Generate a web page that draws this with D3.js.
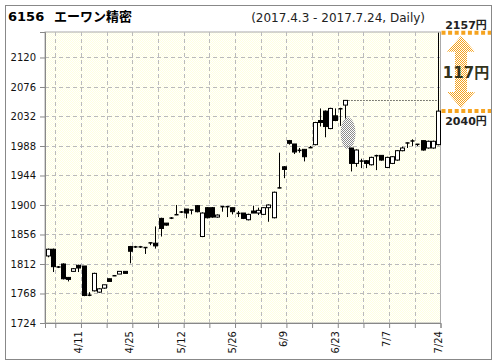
<!DOCTYPE html>
<html>
<head>
<meta charset="utf-8">
<script src="https://cdn.jsdelivr.net/npm/d3@7"></script>
<style>
  body { margin: 0; background: #fff; }
</style>
</head>
<body>
<div id="chart"></div>
<script>
// trading days 2017.4.3 - 2017.7.24
const dates = [
  '4/3','4/4','4/5','4/6','4/7','4/10','4/11','4/12','4/13','4/14','4/17','4/18','4/19','4/20','4/21','4/24','4/25','4/26','4/27','4/28',
  '5/1','5/2','5/8','5/9','5/10','5/11','5/12','5/15','5/16','5/17','5/18','5/19','5/22','5/23','5/24','5/25','5/26','5/29','5/30','5/31',
  '6/1','6/2','6/5','6/6','6/7','6/8','6/9','6/12','6/13','6/14','6/15','6/16','6/19','6/20','6/21','6/22','6/23','6/26','6/27','6/28','6/29','6/30',
  '7/3','7/4','7/5','7/6','7/7','7/10','7/11','7/12','7/13','7/14','7/18','7/19','7/20','7/21','7/24'
];
const open = [
  1824,1834,1808,1812,1792,1801,1810,1809,1766,1772,1770,1776,1790,1795,1797,1801,
  1838,1838,1838,1837,1844,1843,1880,1873,1881,1886,1890,1894,1893,1899,1853,1896,
  1896,1882,1898,1898,1896,1888,1888,1878,1891,1888,1886,1896,1881,1926,1957,1996,
  1991,1982,1983,1986,1990,2026,2040,2014,2033,2044,2049,1985,1962,1966,1966,1960,
  1974,1974,1956,1962,1967,1981,1993,1996,1991,1996,1985,1985,1990
];
const high = [
  1835,1835,1809,1813,1792,1806,1811,1809,1770,1799,1776,1781,1790,1795,1801,1801,
  1839,1839,1839,1837,1844,1868,1881,1873,1882,1900,1891,1894,1893,1900,1889,1897,
  1897,1886,1898,1898,1896,1891,1888,1887,1899,1896,1897,1901,1920,1978,1958,1997,
  1991,1985,1983,1988,2024,2044,2041,2045,2044,2045,2056,1985,1983,1969,1967,1972,
  1975,1974,1972,1973,1982,1987,1993,1998,1991,1996,1996,1996,2157
];
const low = [
  1822,1800,1806,1789,1786,1800,1800,1764,1764,1771,1769,1775,1786,1794,1797,1798,
  1813,1836,1836,1827,1840,1835,1853,1869,1879,1885,1888,1880,1886,1889,1852,1880,
  1881,1881,1890,1882,1886,1882,1879,1877,1888,1885,1885,1875,1880,1925,1940,1990,
  1976,1978,1965,1985,1989,2017,2001,2013,2025,2018,2029,1950,1957,1955,1955,1959,
  1952,1966,1955,1961,1966,1980,1985,1988,1988,1981,1984,1984,1989
];
const close = [
  1834,1808,1807,1790,1789,1805,1806,1765,1765,1798,1775,1781,1786,1794,1801,1798,
  1831,1837,1837,1836,1843,1839,1865,1870,1880,1885,1889,1888,1892,1890,1888,1881,
  1882,1885,1897,1897,1890,1887,1880,1886,1888,1892,1896,1900,1919,1925,1953,1992,
  1979,1981,1972,1985,2023,2023,2017,2044,2026,2043,2056,1962,1982,1965,1962,1971,
  1973,1967,1971,1972,1981,1985,1992,1995,1990,1982,1995,1995,2040
];
const yTicks = [1724, 1768, 1812, 1856, 1900, 1944, 1988, 2032, 2076, 2120];
const labelDates = ['4/11', '4/25', '5/12', '5/26', '6/9', '6/23', '7/7', '7/24'];
const code = '6156';
const name = 'エーワン精密';
const period = '(2017.4.3 - 2017.7.24, Daily)';
const rangeTop = 2157;
const rangeBottom = 2040;
const rangeDiff = 117;
const prevHigh = 2056;
const gapAfter = 58; // window between this day and the next

const W = 496, H = 364;
const plot = { left: 45, right: 440.5, top: 32, bottom: 323 };
const orange = '#f5a31f';

const svg = d3.select('#chart').append('svg')
  .attr('width', W).attr('height', H)
  .style('font-family', '"DejaVu Sans", "Noto Sans CJK JP", sans-serif');

// dither patterns
const defs = svg.append('defs');
const checker = (id, a, b) => {
  const p = defs.append('pattern').attr('id', id)
    .attr('width', 2).attr('height', 2).attr('patternUnits', 'userSpaceOnUse');
  p.append('rect').attr('width', 2).attr('height', 2).attr('fill', b);
  p.append('rect').attr('width', 1).attr('height', 1).attr('fill', a);
  p.append('rect').attr('x', 1).attr('y', 1).attr('width', 1).attr('height', 1).attr('fill', a);
};
checker('bg', '#ffffe0', '#ffffff');
checker('arrowFill', orange, '#ffffff');
checker('gapFill', '#8a8a8a', 'rgba(255,255,255,0)');

// outer frame
svg.append('rect')
  .attr('x', 5.5).attr('y', 5.5).attr('width', 486).attr('height', 354)
  .attr('fill', '#fff').attr('stroke', '#888');

// title
svg.append('text').attr('x', 8).attr('y', 21)
  .attr('font-size', 13).attr('font-weight', 'bold').text(code);
svg.append('text').attr('x', 54).attr('y', 21)
  .attr('font-size', 13).attr('font-weight', 'bold').text(name);
svg.append('text').attr('x', 425).attr('y', 22).attr('text-anchor', 'end')
  .attr('font-size', 12).attr('fill', '#222').text(period);

// scales
const x = d3.scaleLinear().domain([-0.5, dates.length - 0.5]).range([plot.left, plot.right]);
const y = d3.scaleLinear().domain([1724, 2158]).range([plot.bottom, plot.top]);

svg.append('rect')
  .attr('x', plot.left).attr('y', plot.top)
  .attr('width', plot.right - plot.left).attr('height', plot.bottom - plot.top)
  .attr('fill', 'url(#bg)').attr('stroke', '#aaa');

// x ticks every 5 trading days, between candles
const tickIdx = d3.range(1, dates.length, 5);

svg.append('g').selectAll('line')
  .data(tickIdx.filter(i => x(i + 0.5) < plot.right - 1))
  .join('line')
  .attr('x1', i => Math.round(x(i + 0.5)) + 0.5).attr('x2', i => Math.round(x(i + 0.5)) + 0.5)
  .attr('y1', plot.top).attr('y2', plot.bottom)
  .attr('stroke', '#bbb').attr('stroke-dasharray', '4,3');

svg.append('g').selectAll('line')
  .data(yTicks.slice(1))
  .join('line')
  .attr('x1', plot.left).attr('x2', plot.right)
  .attr('y1', d => Math.round(y(d)) + 0.5).attr('y2', d => Math.round(y(d)) + 0.5)
  .attr('stroke', '#bbb').attr('stroke-dasharray', '4,3');

// y axis
const yAxis = svg.append('g')
  .attr('transform', `translate(${plot.left},0)`)
  .call(d3.axisLeft(y).tickValues(yTicks).tickSize(5).tickPadding(4).tickFormat(d3.format('d')));
yAxis.select('.domain').attr('stroke', '#888');
yAxis.selectAll('.tick line').attr('stroke', '#888');
yAxis.selectAll('.tick text').attr('font-size', 10).attr('fill', '#111')
  .attr('font-family', '"DejaVu Sans", sans-serif');

// x axis
const xAxis = svg.append('g')
  .attr('transform', `translate(0,${plot.bottom})`)
  .call(d3.axisBottom(x)
    .tickValues(tickIdx.map(i => i + 0.5))
    .tickSize(5)
    .tickFormat(v => {
      const d = dates[Math.round(v - 0.5)];
      return labelDates.includes(d) ? d : '';
    }));
xAxis.select('.domain').attr('stroke', '#888');
xAxis.selectAll('.tick line').attr('stroke', '#888');
xAxis.selectAll('.tick text')
  .attr('font-size', 10).attr('fill', '#111')
  .attr('font-family', '"DejaVu Sans", sans-serif')
  .attr('text-anchor', 'end')
  .attr('transform', 'rotate(-90)')
  .attr('x', -8).attr('y', -3).attr('dy', '0.35em');

// gap window marker
const gx = (x(gapAfter) + x(gapAfter + 1)) / 2;
const gTop = y(low[gapAfter]), gBot = y(high[gapAfter + 1]);
svg.append('ellipse')
  .attr('cx', gx).attr('cy', (gTop + gBot) / 2)
  .attr('rx', 7.5).attr('ry', (gBot - gTop) / 2 + 1)
  .attr('fill', 'url(#gapFill)');

// previous high dotted line
svg.append('line')
  .attr('x1', x(gapAfter) + 3).attr('x2', plot.right - 2)
  .attr('y1', Math.round(y(prevHigh)) + 0.5).attr('y2', Math.round(y(prevHigh)) + 0.5)
  .attr('stroke', '#000').attr('stroke-dasharray', '1,2');

// candles
const data = dates.map((d, i) => ({ i, d, o: open[i], h: high[i], l: low[i], c: close[i] }));
const bw = 4;
const candles = svg.append('g');
candles.selectAll('line')
  .data(data)
  .join('line')
  .attr('x1', d => Math.round(x(d.i)) + 0.5).attr('x2', d => Math.round(x(d.i)) + 0.5)
  .attr('y1', d => y(d.h)).attr('y2', d => y(d.l))
  .attr('stroke', '#000');

candles.selectAll('rect')
  .data(data)
  .join('rect')
  .attr('x', d => Math.round(x(d.i)) - bw / 2 + 0.5)
  .attr('y', d => {
    const t = y(Math.max(d.o, d.c)), b = y(Math.min(d.o, d.c));
    return b - t < 2 ? (t + b) / 2 - 0.75 : t;
  })
  .attr('width', bw)
  .attr('height', d => {
    const t = y(Math.max(d.o, d.c)), b = y(Math.min(d.o, d.c));
    return b - t < 2 ? 1.5 : b - t;
  })
  .attr('fill', d => {
    const dy = Math.abs(y(d.o) - y(d.c));
    return dy < 2 || d.c < d.o ? '#000' : '#fff';
  })
  .attr('stroke', d => Math.abs(y(d.o) - y(d.c)) < 2 ? 'none' : '#000')
  .attr('stroke-width', 1);

// right side range annotation
const ax = 466;
[rangeTop, rangeBottom].forEach(v => {
  svg.append('line')
    .attr('x1', plot.right + 1).attr('x2', 491)
    .attr('y1', y(v)).attr('y2', y(v))
    .attr('stroke', orange).attr('stroke-width', 4).attr('stroke-dasharray', '4,2.6');
});
svg.append('text').attr('x', ax).attr('y', y(rangeTop) - 4)
  .attr('text-anchor', 'middle').attr('font-size', 11).attr('font-weight', 'bold')
  .attr('fill', '#222').text(rangeTop + '円');
svg.append('text').attr('x', ax).attr('y', y(rangeBottom) + 14)
  .attr('text-anchor', 'middle').attr('font-size', 11).attr('font-weight', 'bold')
  .attr('fill', '#222').text(rangeBottom + '円');

const at = y(rangeTop) + 3, ab = y(rangeBottom) - 3;
const cx = 461, hw = 14, sw = 6, hh = 16;
const arrow = [
  [cx, at], [cx + hw, at + hh], [cx + sw, at + hh], [cx + sw, ab - hh], [cx + hw, ab - hh],
  [cx, ab], [cx - hw, ab - hh], [cx - sw, ab - hh], [cx - sw, at + hh], [cx - hw, at + hh]
];
svg.append('path')
  .attr('d', d3.line()(arrow) + 'Z')
  .attr('fill', 'url(#arrowFill)');

svg.append('text').attr('x', ax).attr('y', (y(rangeTop) + y(rangeBottom)) / 2 + 6)
  .attr('text-anchor', 'middle').attr('font-size', 15).attr('font-weight', 'bold')
  .attr('fill', '#33331a').text(rangeDiff + '円');
</script>
</body>
</html>
